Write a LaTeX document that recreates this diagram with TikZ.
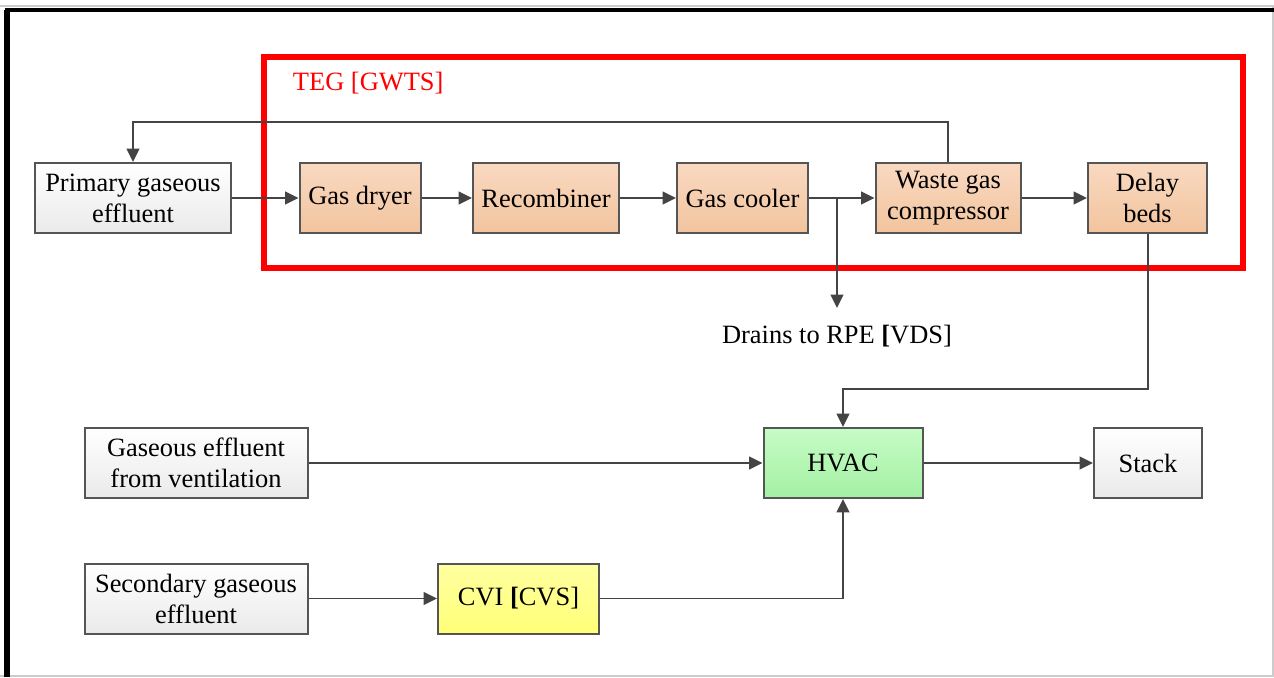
\documentclass[tikz,border=0pt]{standalone}
\usepackage{fontspec}
\IfFontExistsTF{LiberationSerif-Regular.ttf}
  {\setmainfont{LiberationSerif-Regular.ttf}[BoldFont=LiberationSerif-Bold.ttf]}
  {\IfFontExistsTF{texgyretermes-regular.otf}
    {\setmainfont{texgyretermes-regular.otf}[BoldFont=texgyretermes-bold.otf]}
    {}}
\usepackage{tikz}
\usetikzlibrary{arrows.meta}
\usetikzlibrary{positioning}

\definecolor{peachtop}{RGB}{249,217,193}
\definecolor{peachbot}{RGB}{242,196,158}
\definecolor{greytop}{RGB}{255,255,255}
\definecolor{greybot}{RGB}{234,234,234}
\definecolor{greentop}{RGB}{198,252,198}
\definecolor{greenbot}{RGB}{164,240,164}
\definecolor{yellowtop}{RGB}{255,255,160}
\definecolor{yellowbot}{RGB}{255,255,120}
\definecolor{linegrey}{RGB}{68,68,68}
\definecolor{boxgrey}{RGB}{85,85,85}

\newcommand{\px}{0.025cm}
\newcommand{\labelfont}{\fontsize{18.8}{22}\selectfont}

\tikzstyle{blk}=[draw=boxgrey, line width=2*\px, inner sep=0pt, align=center, minimum height=70*\px, font=\labelfont]
\tikzstyle{teg}=[blk, top color=peachtop, bottom color=peachbot]
\tikzstyle{src}=[blk, top color=greytop, bottom color=greybot]
\tikzstyle{arr}=[draw=linegrey, line width=1.4pt, -{Triangle[length=9.5pt, width=9pt]}]

\begin{document}
\begin{tikzpicture}[x=\px, y=-\px]

	  \useasboundingbox (0,0) rectangle (1274,677);

	  %----------------------------------------------------------------
	  % frame
	  \draw [gray!40] [line width=1.5*\px] (0,6) -- (1273,6) -- (1273,676) -- (0,676);
	  \draw [black] [line width=4*\px] (5,9.5) -- (1274,9.5);
	  \draw [black] [line width=6*\px] (7,9.5) -- (7,677);

	  %----------------------------------------------------------------
	  % red box
	  \draw [red] [line width=6*\px] (264,57) rectangle (1243,268);
	  \node [red, anchor=west, font=\labelfont] (tegname) at (288,83) {TEG [GWTS]};

	  %----------------------------------------------------------------
	  % upper row
	  \node [src, minimum width=196*\px] (prim) at (133,198) {Primary gaseous\\effluent};
	  \node [teg, minimum width=121*\px] (dryer) at (360,198) {Gas dryer};
	  \node [teg, minimum width=146*\px] (recomb) at (546,198) {Recombiner};
	  \node [teg, minimum width=131*\px] (cooler) at (742.5,198) {Gas cooler};
	  \node [teg, minimum width=145*\px] (comp) at (948,198) {Waste gas\\compressor};
	  \node [teg, minimum width=119*\px] (delay) at (1147.5,198) {Delay\\beds};

	  \node [font=\labelfont] (drains) at (837,336) {Drains to RPE \textbf{[}VDS]};

	  %----------------------------------------------------------------
	  % lower rows
	  \node [src, minimum width=223*\px] (vent) at (196,463) {Gaseous effluent\\from ventilation};
	  \node [blk, minimum width=159*\px, top color=greentop, bottom color=greenbot] (hvac) at (843,463) {HVAC};
	  \node [src, minimum width=108*\px] (stack) at (1148,463) {Stack};
	  \node [src, minimum width=223*\px] (second) at (196,598.5) {Secondary gaseous\\effluent};
	  \node [blk, minimum width=161*\px, top color=yellowtop, bottom color=yellowbot] (cvi) at (518.5,598.5) {CVI \textbf{[}CVS]};

	  %----------------------------------------------------------------
	  % connectors
	  \draw [arr] (prim) -- (dryer);
	  \draw [arr] (dryer) -- (recomb);
	  \draw [arr] (recomb) -- (cooler);
	  \draw [arr] (cooler) -- (comp);
	  \draw [arr] (comp) -- (delay);
	  \draw [arr] (comp.north) -- ++(0,-40) -| (prim.north);

	  \coordinate (branch) at (837,198);
	  \coordinate (drainend) at (837,308);
	  \draw [arr] (branch) -- (drainend);

	  \draw [arr] (delay.south) -- ++(0,155) -| (hvac.north);
	  \draw [arr] (vent) -- (hvac);
	  \draw [arr] (hvac) -- (stack);
	  \draw [arr] (second) -- (cvi);
	  \draw [arr] (cvi.east) -| (hvac.south);

\end{tikzpicture}
\end{document}
